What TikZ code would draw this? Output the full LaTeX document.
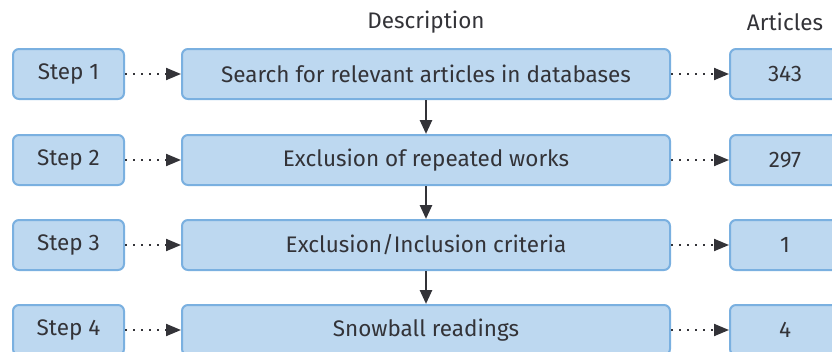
\documentclass[tikz,border=0pt]{standalone}
\usepackage{fontspec}
\setmainfont{Fira Sans}
\usetikzlibrary{arrows.meta}
\definecolor{boxfill}{RGB}{189,216,240}
\definecolor{boxline}{RGB}{122,176,224}
\definecolor{ink}{RGB}{51,51,56}
\begin{document}
\begin{tikzpicture}[x=1pt,y=-1pt,
  font=\fontsize{22.5}{26}\selectfont, text=ink,
  box/.style={draw=boxline, fill=boxfill, line width=2pt, rounded corners=6pt,
    minimum height=50pt, inner sep=0pt, anchor=center},
  stepbox/.style={box, minimum width=111pt},
  descbox/.style={box, minimum width=488pt},
  countbox/.style={box, minimum width=110pt},
  header/.style={inner sep=0pt},
  dotarrow/.style={ink, line width=2pt, dash pattern=on 1.6pt off 6.4pt,
    -{Triangle[length=15pt,width=12pt]}},
  downarrow/.style={ink, line width=2.6pt, -{Triangle[length=14pt,width=12pt]}}
]
\useasboundingbox (0,0) rectangle (832,351);

\node[header] (hd) at (426,22) {Description};
\node[header] (ha) at (785,22) {Articles};

\foreach \i/\y/\d/\n in {1/74/{Search for relevant articles in databases}/343,
                         2/160/{Exclusion of repeated works}/297,
                         3/245/{Exclusion/Inclusion criteria}/1,
                         4/330/{Snowball readings}/4}{
  \node[stepbox] (s\i) at (68.5,\y) {Step \i};
  \node[descbox] (d\i) at (426,\y) {\d};
  \node[countbox] (c\i) at (785,\y) {\n};
  \draw[dotarrow] (s\i.east) -- (d\i.west);
  \draw[dotarrow] (d\i.east) -- (c\i.west);
}
\foreach \a/\b in {1/2,2/3,3/4}{
  \draw[downarrow] (d\a.south) -- (d\b.north);
}
\end{tikzpicture}
\end{document}
